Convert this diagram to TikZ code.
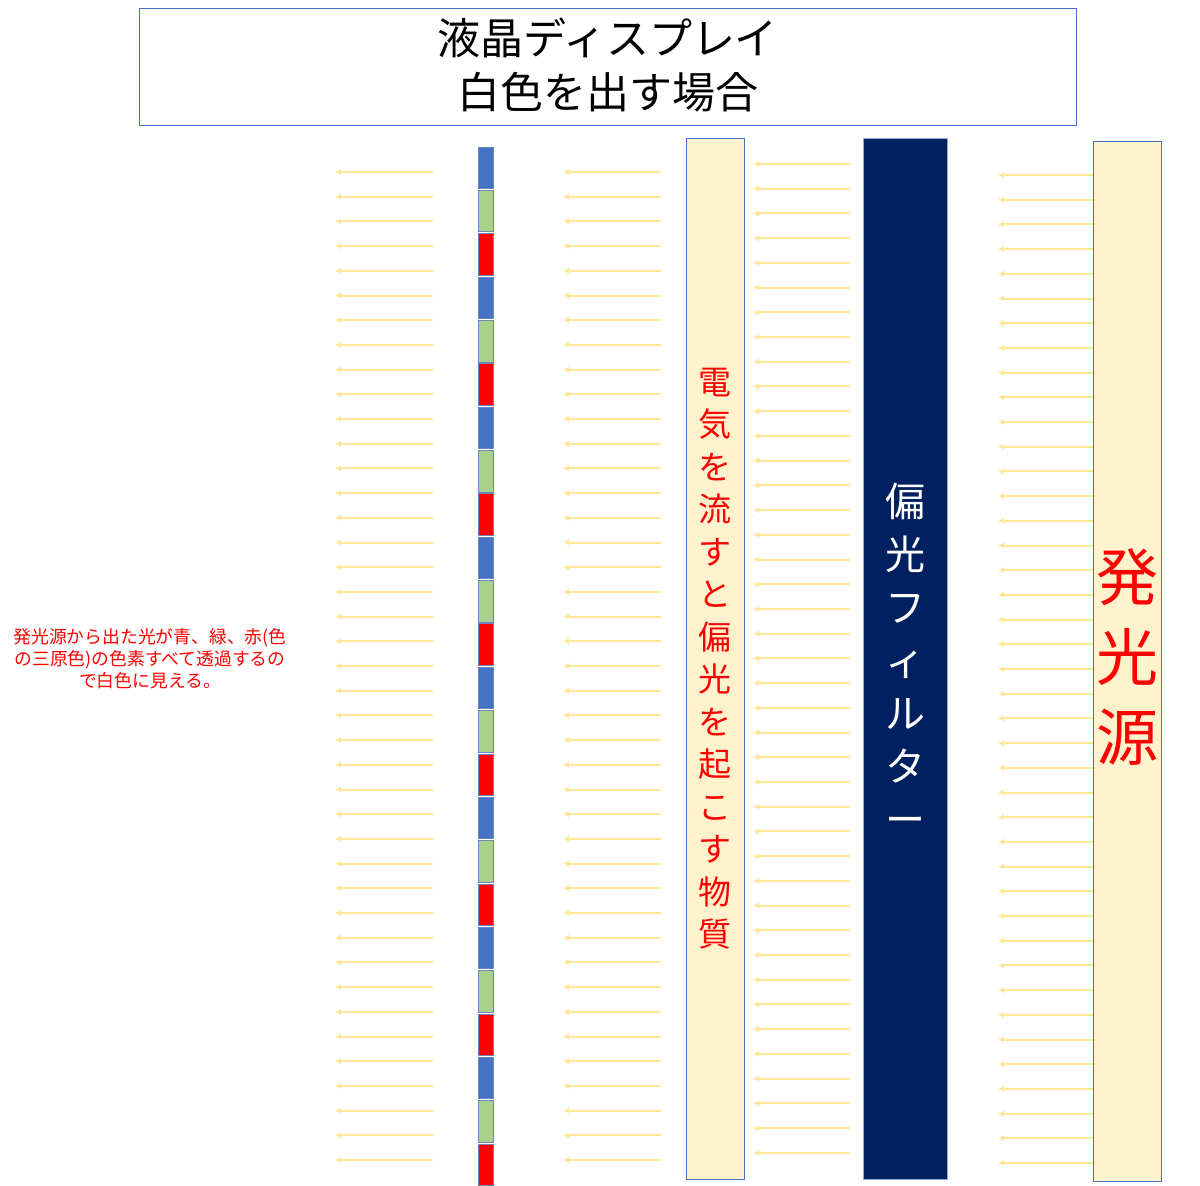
\documentclass[tikz,border=0pt]{standalone}
\usepackage{fontspec}
\setmainfont{Noto Sans CJK JP}
\usetikzlibrary{arrows.meta}
\definecolor{raycol}{HTML}{FFE699}
\definecolor{edgeblue}{HTML}{4472C4}
\definecolor{pixedge}{HTML}{6C86B8}
\definecolor{pix0}{HTML}{4472C4}
\definecolor{pix1}{HTML}{A9D18E}
\definecolor{pix2}{HTML}{FF0000}
\definecolor{cream}{HTML}{FFF2CC}
\definecolor{navy}{HTML}{002060}
\definecolor{redtext}{HTML}{FF0000}
\begin{document}
\begin{tikzpicture}[x=1pt,y=-1pt,
  ray/.style={draw=raycol, line width=2pt, -{Latex[length=6pt,width=6.5pt]}},
  titlebox/.style={draw=edgeblue, line width=0.8pt, fill=white, minimum width=937pt, minimum height=117pt, inner sep=0pt},
  bar/.style={draw=edgeblue, line width=0.8pt, fill=cream, inner sep=0pt},
  navybar/.style={draw=edgeblue!60, line width=0.6pt, fill=navy, inner sep=0pt},
  pixcell/.style={draw=pixedge, line width=0.8pt, minimum width=15pt, minimum height=41.5pt, inner sep=0pt},
  vtext/.style={align=center, inner sep=0pt}
]
\useasboundingbox (0,0) rectangle (1200,1186);

% title
\node[titlebox] (title) at (607.5,66.5) {};
\node[align=center, inner sep=0pt, font=\fontsize{43}{54}\selectfont] (titletext) at (607.5,64.5) {液晶ディスプレイ\\白色を出す場合};

% rays
\foreach \i in {0,...,40}{
  \pgfmathsetmacro\yy{172+\i*24.7}
  \coordinate (aS\i) at (433,\yy);
  \coordinate (aE\i) at (335,\yy);
  \draw[ray] (aS\i) -- (aE\i);
  \coordinate (bS\i) at (661,\yy);
  \coordinate (bE\i) at (563,\yy);
  \draw[ray] (bS\i) -- (bE\i);
  \pgfmathsetmacro\yc{164+\i*24.72}
  \coordinate (cS\i) at (850,\yc);
  \coordinate (cE\i) at (753,\yc);
  \draw[ray] (cS\i) -- (cE\i);
  \pgfmathsetmacro\yd{175+\i*24.7}
  \coordinate (dS\i) at (1093,\yd);
  \coordinate (dE\i) at (998,\yd);
  \draw[ray] (dS\i) -- (dE\i);
}

% pixel column
\foreach \i in {0,...,23}{
  \pgfmathsetmacro\yy{147+\i*43.35+20.75}
  \pgfmathtruncatemacro\m{mod(\i,3)}
  \node[pixcell, fill=pix\m] (px\i) at (485.5,\yy) {};
}

% liquid crystal bar
\node[bar, minimum width=58pt, minimum height=1041pt] (lc) at (715,658.5) {};
\node[vtext, text=redtext, font=\fontsize{33}{42.5}\selectfont] (lctext) at (lc.center)
  {電\\気\\を\\流\\す\\と\\偏\\光\\を\\起\\こ\\す\\物\\質};

% polarizing filter
\node[navybar, minimum width=84pt, minimum height=1041pt] (pf) at (905,658.5) {};
\node[vtext, text=white, font=\fontsize{40}{53}\selectfont] (pftext) at (pf.center)
  {偏\\光\\フ\\ィ\\ル\\タ\\ー};

% light source
\node[bar, minimum width=68pt, minimum height=1040pt] (src) at (1127,661) {};
\node[vtext, text=redtext, font=\fontsize{62}{80}\selectfont] (srctext) at (1127,657)
  {発\\光\\源};

% note
\node[align=center, inner sep=0pt, text=redtext, font=\fontsize{17.8}{22}\selectfont] (note) at (150,659)
  {発光源から出た光が青、緑、赤(色\\の三原色)の色素すべて透過するの\\で白色に見える。};
\end{tikzpicture}
\end{document}
